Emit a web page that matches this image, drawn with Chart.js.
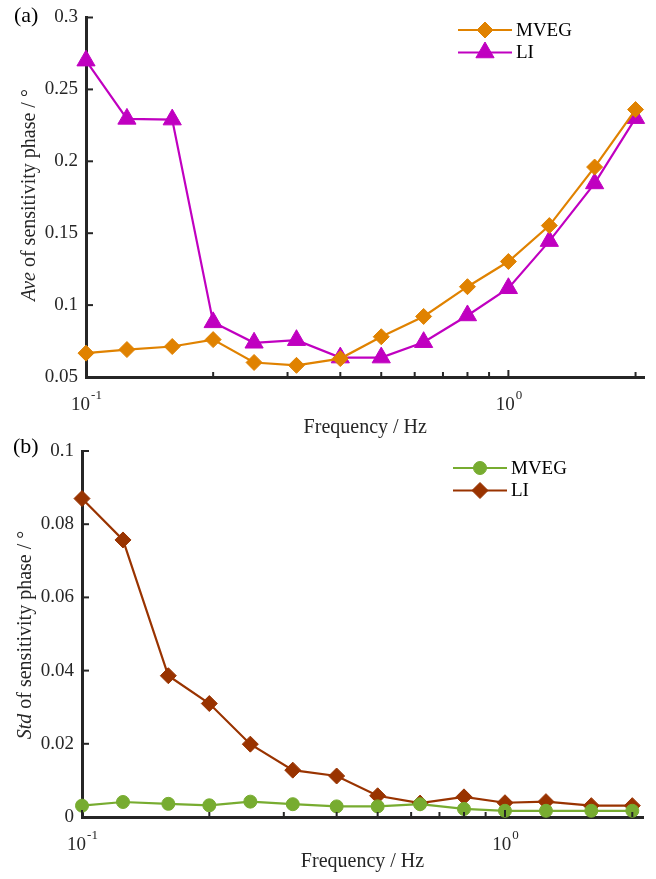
<!DOCTYPE html>
<html><head><meta charset="utf-8">
<script src="https://cdn.jsdelivr.net/npm/chart.js@4/dist/chart.umd.min.js"></script>
<style>
html,body{margin:0;padding:0;background:#fff;}
#wrap{position:relative;width:656px;height:879px;overflow:hidden;}
canvas{position:absolute;left:0;top:0;}
</style></head><body>
<div id="wrap">
<canvas id="ca" width="656" height="879"></canvas>
<canvas id="cb" width="656" height="879"></canvas>
</div>
<script>
// ---- data ----
const freqs = [0.1, 0.125, 0.16, 0.2, 0.25, 0.315, 0.4, 0.5, 0.63, 0.8, 1, 1.25, 1.6, 2];
const aveMVEG = [0.0666, 0.0691, 0.0712, 0.0760, 0.0601, 0.0581, 0.0628, 0.0780, 0.0921, 0.1128, 0.1303, 0.1553, 0.1960, 0.2360];
const aveLI   = [0.2700, 0.2295, 0.2290, 0.0880, 0.0738, 0.0756, 0.0635, 0.0635, 0.0742, 0.0928, 0.1117, 0.1445, 0.1846, 0.2300];
const stdMVEG = [0.0031, 0.0041, 0.0036, 0.0032, 0.0042, 0.0035, 0.0029, 0.0029, 0.0035, 0.0022, 0.0017, 0.0017, 0.0017, 0.0017];
const stdLI   = [0.0870, 0.0757, 0.0386, 0.0310, 0.0199, 0.0128, 0.0112, 0.0058, 0.0038, 0.0055, 0.0039, 0.0042, 0.0031, 0.0031];
const seriesNames = ['MVEG', 'LI'];
const aveTicks = [0.05, 0.1, 0.15, 0.2, 0.25, 0.3];
const stdTicks = [0, 0.02, 0.04, 0.06, 0.08, 0.1];
const xMajorTicks = [0.1, 1];
const xMajorLabels = [['10', '-1'], ['10', '0']];
const xMinorTicks = [0.2, 0.3, 0.4, 0.5, 0.6, 0.7, 0.8, 0.9, 2];
const xTitle = 'Frequency / Hz';
const yTitleA = ['Ave', ' of sensitivity phase / \u00B0'];
const yTitleB = ['Std', ' of sensitivity phase / \u00B0'];

const FONT = "'Liberation Serif', 'Times New Roman', serif";
const AX = '#262626';

function fmt(v){ return String(Math.round(v*1000)/1000); }

function makePanel(canvas, p) {
  const H = canvas.height;
  const framePlugin = {
    id: 'frame',
    afterDraw(chart) {
      const ctx = chart.ctx;
      const xs = chart.scales.x, ys = chart.scales.y;
      const L = chart.chartArea.left, B = chart.chartArea.bottom;
      ctx.save();
      ctx.strokeStyle = AX;
      ctx.lineWidth = 2;
      // inward y ticks
      p.yTicks.forEach(v => {
        const y = ys.getPixelForValue(v);
        ctx.beginPath(); ctx.moveTo(L, y); ctx.lineTo(L + 7, y); ctx.stroke();
      });
      // inward x ticks
      xMinorTicks.forEach(v => {
        const x = xs.getPixelForValue(v);
        ctx.beginPath(); ctx.moveTo(x, B); ctx.lineTo(x, B - 5); ctx.stroke();
      });
      xMajorTicks.forEach(v => {
        const x = xs.getPixelForValue(v);
        ctx.beginPath(); ctx.moveTo(x, B); ctx.lineTo(x, B - 7); ctx.stroke();
      });
      // x tick labels with superscripts
      ctx.fillStyle = AX;
      ctx.textBaseline = 'alphabetic';
      xMajorTicks.forEach((v, i) => {
        const x = xs.getPixelForValue(v);
        const [base, sup] = xMajorLabels[i];
        ctx.font = '19px ' + FONT;
        const wb = ctx.measureText(base).width;
        ctx.font = '13px ' + FONT;
        const ws = ctx.measureText(sup).width;
        const x0 = x - (wb + ws) / 2;
        ctx.textAlign = 'left';
        ctx.font = '19px ' + FONT;
        ctx.fillText(base, x0, B + 33);
        ctx.font = '13px ' + FONT;
        ctx.fillText(sup, x0 + wb + 1, B + 22);
      });
      // x title
      ctx.font = '20px ' + FONT;
      ctx.textAlign = 'center';
      ctx.fillText(xTitle, (chart.chartArea.left + chart.chartArea.right) / 2, B + p.xTitleOff);
      // y title (rotated, mixed italic)
      ctx.save();
      ctx.translate(p.yTitleX, p.yTitleY);
      ctx.rotate(-Math.PI / 2);
      ctx.font = 'italic 20px ' + FONT;
      const w1 = ctx.measureText(p.yTitle[0]).width;
      ctx.font = '20px ' + FONT;
      const w2 = ctx.measureText(p.yTitle[1]).width;
      ctx.textAlign = 'left';
      ctx.textBaseline = 'middle';
      ctx.font = 'italic 20px ' + FONT;
      ctx.fillText(p.yTitle[0], -(w1 + w2) / 2, 0);
      ctx.font = '20px ' + FONT;
      ctx.fillText(p.yTitle[1], -(w1 + w2) / 2 + w1, 0);
      ctx.restore();
      // panel label
      ctx.font = '22px ' + FONT;
      ctx.fillStyle = '#000';
      ctx.textAlign = 'left';
      ctx.textBaseline = 'middle';
      ctx.fillText(p.panel, p.panelX, p.panelY);
      // legend
      chart.data.datasets.forEach((ds, i) => {
        const y = p.legY + i * 22.5;
        ctx.strokeStyle = ds.borderColor;
        ctx.lineWidth = ds.borderWidth;
        ctx.beginPath(); ctx.moveTo(p.legX, y); ctx.lineTo(p.legX + 54, y); ctx.stroke();
        ctx.fillStyle = ds.pointBackgroundColor;
        ctx.strokeStyle = ds.pointBorderColor;
        ctx.lineWidth = ds.pointBorderWidth;
        Chart.helpers.drawPoint(ctx, {pointStyle: ds.pointStyle, radius: ds.pointRadius, borderWidth: ds.pointBorderWidth, rotation: 0}, p.legX + 27, y);
        ctx.fillStyle = '#000';
        ctx.font = '19px ' + FONT;
        ctx.textAlign = 'left';
        ctx.textBaseline = 'middle';
        ctx.fillText(ds.label, p.legX + 58, y + 1);
      });
      ctx.restore();
    }
  };

  return new Chart(canvas, {
    type: 'line',
    data: {
      labels: freqs,
      datasets: p.series.map(s => ({
        label: s.name,
        data: freqs.map((f, i) => ({x: f, y: s.values[i]})),
        borderColor: s.color,
        backgroundColor: s.color,
        pointBackgroundColor: s.color,
        pointBorderColor: s.color,
        pointBorderWidth: 1,
        pointStyle: s.style,
        pointRadius: s.radius,
        borderWidth: 2.2,
        tension: 0,
        clip: false
      }))
    },
    options: {
      responsive: false,
      animation: false,
      events: [],
      layout: { padding: { left: 0, top: p.top, right: 656 - p.right, bottom: 0 } },
      plugins: { legend: { display: false }, tooltip: { enabled: false } },
      scales: {
        x: {
          type: 'logarithmic',
          min: 0.1, max: p.xmax,
          grid: { display: false, drawTicks: false },
          border: { display: true, color: AX, width: 3 },
          ticks: { display: false },
          afterFit(s) { s.height = H - p.bottom; }
        },
        y: {
          type: 'linear',
          min: p.yTicks[0], max: p.yTicks[p.yTicks.length - 1],
          grid: { display: false, drawTicks: false },
          border: { display: true, color: AX, width: 3 },
          afterBuildTicks(s) { s.ticks = p.yTicks.map(v => ({value: v})); },
          ticks: {
            padding: 8,
            color: AX,
            font: { family: FONT, size: 19, lineHeight: 1 },
            callback: v => fmt(v)
          },
          afterFit(s) { s.width = p.left; }
        }
      }
    },
    plugins: [framePlugin]
  });
}

makePanel(document.getElementById('ca'), {
  left: 86, right: 645, top: 11, bottom: 377, xmax: 2.1,
  yTicks: aveTicks,
  series: [
    {name: seriesNames[0], values: aveMVEG, color: '#E08200', style: 'rectRot', radius: 8},
    {name: seriesNames[1], values: aveLI, color: '#C000C0', style: 'triangle', radius: 10.5}
  ],
  yTitle: yTitleA, yTitleX: 30, yTitleY: 195,
  xTitleOff: 56,
  panel: '(a)', panelX: 14, panelY: 16,
  legX: 458, legY: 30
});

makePanel(document.getElementById('cb'), {
  left: 82, right: 643, top: 451, bottom: 817, xmax: 2.12,
  yTicks: stdTicks,
  series: [
    {name: seriesNames[0], values: stdMVEG, color: '#77AC30', style: 'circle', radius: 6.5},
    {name: seriesNames[1], values: stdLI, color: '#993300', style: 'rectRot', radius: 8}
  ],
  yTitle: yTitleB, yTitleX: 26, yTitleY: 635,
  xTitleOff: 50,
  panel: '(b)', panelX: 13, panelY: 447,
  legX: 453, legY: 468
});
</script>
</body></html>
